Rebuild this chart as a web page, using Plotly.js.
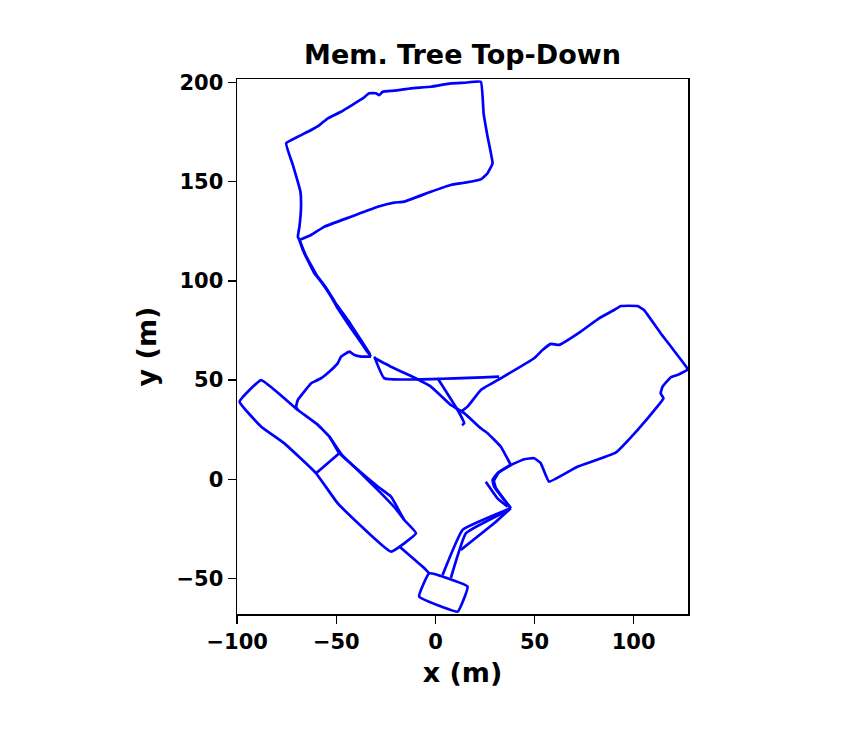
<!DOCTYPE html>
<html>
<head>
<meta charset="utf-8">
<script src="https://cdn.plot.ly/plotly-3.0.1.min.js"></script>
<style>
  body { margin: 0; background: #fff; }
  #plot { width: 867px; height: 738px; }
</style>
</head>
<body>
<div id="plot"></div>
<script>
// trajectory pieces (metres)
var northLoopX = [-68.6,-62.7,-56.0,-42.6,-29.1,-20.8,-15.7,-2.3,7.8,14.5,22.9,26.3,28.8,26.3,24.3,22.9,14.5,7.8,-2.3,-12.3,-20.8,-26.6,-28.3,-30.0,-33.4,-36.7,-47.6,-54.3,-58.5,-62.7,-69.4,-75.3,-71.9,-68.1,-67.8,-68.6,-69.4,-68.6,-66.9,-61.1,-57.7,-52.6,-49.3,-42.6,-36.7,-35.0,-32.5];
var northLoopY = [120.6,123.1,127.3,132.3,137.3,139.4,139.9,144.9,148.3,149.4,151.1,154.2,159.2,172.6,184.4,200.3,199.8,199.5,197.8,197.0,195.8,195.3,193.6,194.5,194.5,191.9,185.2,181.9,178.5,176.0,172.6,169.3,158.3,144.9,137.3,127.3,122.2,120.6,115.5,103.8,99.6,92.0,86.1,76.1,67.7,65.1,61.8];

// second pass down the north road
var northRoadX = [-68.6,-65.5,-60.0,-55.5,-50.5,-44.0,-37.5,-33.0];
var northRoadY = [120.6,113.0,103.0,97.0,89.0,80.0,70.0,63.0];

var westLinkX = [-32.5,-37.5,-40.9,-43.4,-47.6,-49.3,-52.6,-57.7,-61.1,-62.7,-69.4,-70.3,-69.4];
var westLinkY = [61.8,61.8,62.6,64.3,61.8,58.4,55.1,50.9,49.2,48.4,40.0,36.6,34.9];

var westBlockX = [-87.9,-98.8,-87.9,-76.2,-60.2,-49.3,-22.4,-9.8,-15.7,-22.4,-29.1,-40.9,-48.5,-53.5,-59.3,-69.4,-87.9];
var westBlockY = [50.0,39.1,26.5,18.1,3.0,-12.1,-36.5,-27.2,-20.5,-8.8,-3.7,6.3,13.1,21.5,27.4,34.9,50.0];

var westInnerX = [-53.5,-47.0,-40.9,-33.0,-26.0,-19.5,-15.7];
var westInnerY = [21.5,12.0,6.3,-1.5,-8.5,-15.5,-20.5];

var crossBarX = [-48.5,-60.2];
var crossBarY = [13.1,3.0];

var southLinkX = [-18.5,-5.6,-3.1];
var southLinkY = [-33.6,-44.8,-47.4];

var southBlockX = [-3.1,16.2,11.2,-8.2,-3.1];
var southBlockY = [-47.4,-54.1,-66.7,-59.1,-47.4];

var riseAX = [3.6,13.7,38.0];
var riseAY = [-48.2,-25.5,-14.6];
var riseBX = [7.8,15.4,37.0];
var riseBY = [-49.7,-27.2,-15.5];
var riseCX = [12.8,29.6,38.0];
var riseCY = [-35.6,-22.2,-14.6];

var hookAX = [38.0,29.6,28.8,31.3,38.0];
var hookAY = [-14.6,-3.7,-0.4,3.0,7.2];
var hookBX = [25.4,31.3,36.4];
var hookBY = [-1.2,-9.6,-13.8];
var hookCX = [38.0,30.5,29.5,32.0,38.0];
var hookCY = [-14.6,-4.5,-0.8,3.5,7.2];

var eastLoopX = [38.0,44.7,49.8,53.1,57.3,71.6,90.9,101.9,111.9,115.0,113.6,114.5,118.7,122.0,127.0,127.0,113.6,105.2,101.9,93.5,90.1,82.5,73.3,62.4,58.2,54.0,49.8,33.0,22.9,16.2,12.8];
var eastLoopY = [7.2,10.1,10.6,8.1,-1.2,6.3,13.4,24.8,36.6,40.8,43.3,46.6,51.4,52.5,55.1,55.9,73.6,85.3,87.3,87.3,85.3,81.1,74.4,67.7,68.2,65.1,61.0,50.9,45.0,36.6,34.1];

var roadX = [-30.8,-25.8,32.1];
var roadY = [61.8,50.9,51.7];

var diagonalX = [-30.8,-22.4,-12.3,-2.3,7.8,14.5,22.9,26.3,33.0,38.0];
var diagonalY = [61.1,56.7,52.0,46.7,37.4,33.3,25.7,23.2,16.4,7.2];

var spurX = [1.1,11.2,14.5,13.4];
var spurY = [50.9,34.9,28.2,27.2];

var pieces = [
  [northLoopX, northLoopY], [northRoadX, northRoadY], [westLinkX, westLinkY],
  [westBlockX, westBlockY], [westInnerX, westInnerY],
  [crossBarX, crossBarY], [southLinkX, southLinkY], [southBlockX, southBlockY],
  [riseAX, riseAY], [riseBX, riseBY], [riseCX, riseCY],
  [hookAX, hookAY], [hookBX, hookBY], [hookCX, hookCY], [eastLoopX, eastLoopY],
  [roadX, roadY], [diagonalX, diagonalY], [spurX, spurY]
];

var data = pieces.map(p => ({
  x: p[0],
  y: p[1],
  type: "scatter",
  mode: "lines",
  line: {color: "#0000ff", width: 2.7, shape: "spline", smoothing: 0.3},
  showlegend: false,
  hoverinfo: "skip"
}));

var boldFont = {family: "DejaVu Sans", weight: "bold", color: "#000"};

var layout = {
  width: 867,
  height: 738,
  margin: {l: 237, r: 179, t: 79, b: 124},
  paper_bgcolor: "#fff",
  plot_bgcolor: "#fff",
  title: {
    text: "Mem. Tree Top-Down",
    font: Object.assign({size: 27}, boldFont),
    x: 0.5, xref: "paper", xanchor: "center",
    y: 1 - 55 / 738, yref: "container", yanchor: "middle"
  },
  xaxis: {
    title: {text: "x (m)", font: Object.assign({size: 27}, boldFont), standoff: 10},
    range: [-100.1, 127.4],
    tickvals: [-100, -50, 0, 50, 100],
    tickfont: Object.assign({size: 21}, boldFont),
    ticks: "outside", ticklen: 8, tickwidth: 1.5, tickcolor: "#000",
    showline: true, linecolor: "#000", linewidth: 1.5, mirror: true,
    showgrid: false, zeroline: false
  },
  yaxis: {
    title: {text: "y (m)", font: Object.assign({size: 27}, boldFont), standoff: 12},
    range: [-67.9, 201.7],
    tickvals: [-50, 0, 50, 100, 150, 200],
    tickfont: Object.assign({size: 21}, boldFont),
    ticks: "outside", ticklen: 8, tickwidth: 1.5, tickcolor: "#000",
    showline: true, linecolor: "#000", linewidth: 1.5, mirror: true,
    showgrid: false, zeroline: false
  }
};

Plotly.newPlot("plot", data, layout, {displayModeBar: false, staticPlot: true});
</script>
</body>
</html>
